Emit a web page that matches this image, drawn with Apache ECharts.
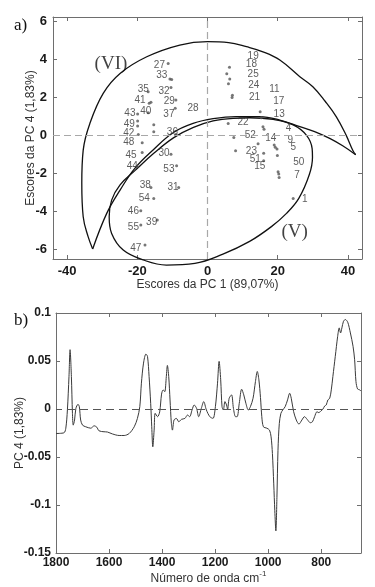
<!DOCTYPE html>
<html>
<head>
<meta charset="utf-8">
<script src="https://cdn.jsdelivr.net/npm/echarts@6/dist/echarts.min.js"></script>
<style>
  html, body { margin: 0; padding: 0; background: #fff; }
  #chart { width: 375px; height: 587px; }
</style>
</head>
<body>
<div id="chart"></div>
<script>
// ---------- Panel a) : PCA scores ----------
const scoreXTicks = [-40, -20, 0, 20, 40];
const scoreYTicks = [-6, -4, -2, 0, 2, 4, 6];

// sample dots [PC1, PC4]
const scoreDots = [
  [-11.2, 3.8], [-10.7, 2.97], [-10.2, 2.95], [-16.9, 2.3], [-10.4, 2.53],
  [-16.6, 1.7], [-16.1, 1.75], [-9.0, 1.87], [-19.9, 1.13], [-16.9, 1.2],
  [-9.2, 1.43], [-19.9, 0.76], [-19.9, 0.49], [-15.3, 0.56], [-15.3, 0.19],
  [-9.0, 0.05], [-19.7, 0.05], [-18.6, -0.39], [-18.6, -0.9], [-10.4, -1.0],
  [-20.0, -1.65], [-8.8, -1.6], [-16.1, -2.76], [-8.2, -2.75], [-15.3, -3.33],
  [-19.0, -3.98], [-14.3, -4.47], [-19.0, -4.74], [-17.8, -5.79],
  [6.26, 3.59], [5.49, 3.25], [6.34, 2.97], [5.97, 2.72], [7.0, 2.0], [7.1, 2.12],
  [15.0, 1.25], [15.3, 0.93], [15.8, 0.46], [16.1, 0.32], [5.9, 0.63],
  [7.5, -0.12], [14.4, -0.45], [19.0, -0.51], [19.3, -0.63], [19.8, -0.72],
  [19.9, -1.07], [8.0, -0.81], [16.0, -0.95], [16.0, -1.34],
  [20.1, -1.92], [20.3, -2.04], [20.4, -2.22], [24.4, -3.33]
];

// sample number labels [PC1, PC4, text]
const scoreLabels = [
  [-13.7, 3.72, '27'], [-13.0, 3.15, '33'], [-18.3, 2.43, '35'], [-12.4, 2.34, '32'],
  [-19.2, 1.87, '41'], [-10.9, 1.81, '29'], [-22.1, 1.15, '43'], [-17.6, 1.28, '40'],
  [-11.0, 1.11, '37'], [-4.1, 1.43, '28'], [-22.3, 0.58, '49'], [-22.4, 0.09, '42'],
  [-22.4, -0.37, '48'], [-10.0, 0.19, '36'], [-21.8, -1.06, '45'], [-12.4, -0.92, '30'],
  [-21.4, -1.62, '44'], [-11.0, -1.8, '53'], [-17.7, -2.64, '38'], [-9.8, -2.75, '31'],
  [-18.0, -3.33, '54'], [-21.1, -4.0, '46'], [-15.9, -4.61, '39'], [-21.1, -4.86, '55'],
  [-20.4, -5.97, '47'],
  [13.0, 4.19, '19'], [12.5, 3.73, '18'], [13.0, 3.25, '25'], [13.2, 2.64, '24'],
  [13.4, 2.0, '21'], [19.05, 2.43, '11'], [20.3, 1.78, '17'], [20.4, 1.1, '13'],
  [10.1, 0.67, '22'], [23.1, 0.37, '4'], [12.2, -0.02, '52'], [18.0, -0.16, '14'],
  [23.6, -0.25, '9'], [24.4, -0.65, '5'], [12.5, -0.83, '23'], [13.6, -1.27, '51'],
  [14.9, -1.62, '15'], [26.0, -1.43, '50'], [25.5, -2.1, '7'], [27.7, -3.36, '1']
];

// group labels [PC1, PC4, text]
const regionLabels = [
  [-27.5, 3.76, '(VI)'],
  [24.8, -5.09, '(V)']
];

// outline of group (VI): outer arc, then inner arc
const crescentOuter = [
  [-32.7, -6.0], [-34.0, -5.35], [-35.4, -4.3], [-35.8, -2.53], [-35.4, -0.78],
  [-33.5, 0.63], [-29.7, 2.22], [-24.9, 3.27], [-17.3, 4.15], [-7.9, 4.77],
  [0, 4.95], [6, 4.9], [11.1, 4.68], [16, 4.4], [20.6, 3.98], [26.3, 3.1],
  [30.0, 2.57], [33.5, 1.8], [36.7, 0.98], [39.5, 0.0], [41.4, -0.8], [42.2, -1.02]
];
const crescentInner = [
  [42.2, -1.02], [38.5, -0.55], [34.8, -0.16], [30.5, 0.2], [26.3, 0.46], [20.6, 0.81],
  [14.9, 0.99], [8.2, 0.99], [1.6, 0.88], [-4.1, 0.63], [-9.8, 0.14],
  [-15.5, -0.77], [-20.7, -1.74], [-24.9, -2.89], [-28.7, -4.12], [-32.7, -6.0]
];
// outline of group (V)
const ellipseV = [
  [7.3, 0.9], [12.0, 0.93], [18.7, 0.84], [24.4, 0.55], [28.2, 0.0], [29.8, -0.7],
  [29.9, -1.15], [29.0, -2.07], [26.0, -3.33], [22.5, -4.12], [18.2, -4.82],
  [12.0, -5.6], [4.4, -6.27], [-3.6, -6.76], [-11.7, -6.85], [-18.3, -6.58],
  [-24.0, -6.06], [-27.3, -5.18], [-28.0, -4.3], [-27.3, -3.42], [-24.9, -2.62],
  [-20.6, -1.85], [-15.3, -0.95], [-9.6, -0.12], [-4.0, 0.42], [1.6, 0.76], [7.3, 0.9]
];

// ---------- Panel b) : PC4 loadings ----------
const waveTicks = [800, 1000, 1200, 1400, 1600, 1800];
const wavenumbers = [
  1800, 1770, 1763, 1757, 1751, 1747, 1742, 1738, 1735, 1730, 1725, 1717, 1712, 1707, 1700,
  1688, 1669, 1656, 1646, 1638, 1619, 1606, 1587, 1562, 1543, 1524, 1505, 1493, 1484, 1478,
  1470, 1461, 1455, 1449, 1443, 1439, 1435, 1430, 1426, 1417, 1409, 1402, 1396, 1390, 1384,
  1380, 1375, 1370, 1365, 1361, 1355, 1346, 1337, 1327, 1314, 1304, 1296, 1287, 1279, 1270,
  1262, 1252, 1243, 1233, 1220, 1208, 1199, 1191, 1185, 1179, 1174, 1169, 1163, 1157, 1153,
  1147, 1138, 1131, 1123, 1117, 1109, 1100, 1092, 1084, 1075, 1067, 1057, 1048, 1041, 1035,
  1029, 1024, 1018, 1005, 995, 989, 984, 979, 975, 971, 967, 963, 958, 952, 945,
  936, 927, 919, 913, 904, 894, 884, 873, 863, 853, 841, 833, 825, 816, 809,
  801, 794, 787, 781, 775, 768, 762, 756, 747, 738, 732, 727, 722, 716, 709,
  700, 690, 680, 674, 669, 663, 655, 650
];
const pc4Loading = [
  -0.0255, -0.0248, -0.020, -0.001, 0.034, 0.0618, 0.034, -0.0045, -0.0168, -0.0115, 0.0007, 0.0049, 0.0024, -0.0115, -0.0168,
  -0.0185, -0.020, -0.0175, -0.019, -0.0227, -0.0237, -0.024, -0.026, -0.0276, -0.0276, -0.0255, -0.0185, -0.0098, 0.0024, 0.0269,
  0.0478, 0.0572, 0.0548, 0.0339, 0.0059, -0.0185, -0.0394, -0.022, -0.0045, -0.008, -0.003, 0.0155, 0.0199, 0.018, 0.0339,
  0.0454, 0.0339, 0.0094, -0.015, -0.022, -0.0115, -0.0098, -0.0133, -0.0108, -0.0098, -0.0063, -0.008, -0.001, 0.0042, 0.0007,
  -0.008, 0.0007, 0.0077, -0.001, -0.008, -0.0098, 0.0024, 0.0269, 0.0496, 0.0304, 0.0024, -0.001, 0.0077, 0.0042, -0.0003,
  0.0112, 0.0147, 0.0007, -0.008, -0.008, 0.0059, 0.0206, 0.0147, 0.0059, -0.001, 0.0024, 0.0112, 0.0286, 0.0391, 0.0304,
  0.012, -0.008, -0.0185, -0.020, -0.022, -0.029, -0.0464, -0.078, -0.106, -0.127, -0.092, -0.043, -0.015, -0.0045, -0.001,
  0.0024, 0.0094, 0.0164, 0.0112, -0.0028, -0.0115, -0.0157, -0.0115, -0.008, -0.0108, -0.0143, -0.0133, -0.008, -0.0028, -0.0038,
  -0.002, -0.0003, 0.0031, 0.0042, 0.0094, 0.0112, 0.0199, 0.0339, 0.0548, 0.0757, 0.0845, 0.0792, 0.0845, 0.0914, 0.0932,
  0.0904, 0.0792, 0.0653, 0.0513, 0.0286, 0.0209, 0.0199, 0.0188
];

// ---------- chart ----------
const SANS = "'Liberation Sans', Arial, sans-serif";
const SERIF = "'Liberation Serif', 'Times New Roman', serif";
const boxColor = '#6e6e6e';
const plain = v => String(v);

function mainAxis(extra) {
  return Object.assign({
    type: 'value',
    splitLine: { show: false },
    axisLine: { show: true, onZero: false, lineStyle: { color: boxColor, width: 1 } },
    nameLocation: 'middle',
    nameMoveOverlap: false,
    nameTextStyle: { color: '#333', fontFamily: SANS, fontSize: 12 }
  }, extra);
}
function mirrorAxis(extra) {
  return Object.assign({
    type: 'value',
    splitLine: { show: false },
    axisLine: { show: true, onZero: false, lineStyle: { color: boxColor, width: 1 } },
    axisLabel: { show: false }
  }, extra);
}
function ticks(values) {
  const t = { show: true, inside: true, length: 4, lineStyle: { color: boxColor } };
  if (values) t.customValues = values;
  return t;
}
function labels(size, margin, values) {
  const l = { color: '#1a1a1a', fontFamily: SANS, fontWeight: 'bold', fontSize: size, margin: margin, formatter: plain };
  if (values) l.customValues = values;
  return l;
}

const waveData = wavenumbers.map((w, i) => [w, pc4Loading[i]]);

const option = {
  animation: false,
  backgroundColor: '#fff',
  grid: [
    { left: 53, top: 17, width: 309, height: 242 },
    { left: 56, top: 313, width: 305, height: 240 }
  ],
  graphic: [
    { type: 'text', left: 14, top: 17, style: { text: 'a)', font: '17px ' + SERIF, fill: '#111' } },
    { type: 'text', left: 14, top: 312, style: { text: 'b)', font: '17px ' + SERIF, fill: '#111' } }
  ],
  xAxis: [
    mainAxis({
      gridIndex: 0, min: -44, max: 44, position: 'bottom',
      axisTick: ticks(scoreXTicks), axisLabel: labels(13, 6, scoreXTicks),
      name: 'Escores da PC 1 (89,07%)', nameGap: 20
    }),
    mirrorAxis({ gridIndex: 0, min: -44, max: 44, position: 'top', axisTick: ticks(scoreXTicks) }),
    mainAxis({
      gridIndex: 1, min: 650, max: 1800, inverse: true, position: 'bottom',
      axisTick: ticks(waveTicks), axisLabel: labels(12, 4, waveTicks),
      name: 'Número de onda cm{sup|-1}', nameGap: 17,
      nameTextStyle: { color: '#333', fontFamily: SANS, fontSize: 12,
        rich: { sup: { fontSize: 8, fontFamily: SANS, color: '#333', padding: [0, 0, 9, 0] } } }
    }),
    mirrorAxis({ gridIndex: 1, min: 650, max: 1800, inverse: true, position: 'top', axisTick: ticks(waveTicks) })
  ],
  yAxis: [
    mainAxis({
      gridIndex: 0, min: -6.53, max: 6.25, position: 'left',
      axisTick: ticks(scoreYTicks), axisLabel: labels(13, 6, scoreYTicks),
      name: 'Escores da PC 4 (1,83%)', nameGap: 16
    }),
    mirrorAxis({ gridIndex: 0, min: -6.53, max: 6.25, position: 'right', axisTick: ticks(scoreYTicks) }),
    mainAxis({
      gridIndex: 1, min: -0.15, max: 0.1, interval: 0.05, position: 'left',
      axisTick: ticks(), axisLabel: labels(12, 5),
      name: 'PC 4 (1,83%)', nameGap: 30
    }),
    mirrorAxis({ gridIndex: 1, min: -0.15, max: 0.1, interval: 0.05, position: 'right', axisTick: ticks() })
  ],
  series: [
    {
      type: 'scatter', xAxisIndex: 0, yAxisIndex: 0, data: scoreDots,
      symbolSize: 3, itemStyle: { color: '#555' }, silent: true, z: 3,
      markLine: {
        silent: true, symbol: 'none', label: { show: false },
        lineStyle: { color: '#a8a8a8', type: [7, 4], width: 1.2 },
        data: [{ xAxis: 0 }, { yAxis: 0 }]
      }
    },
    {
      type: 'scatter', xAxisIndex: 0, yAxisIndex: 0, data: scoreLabels,
      symbolSize: 0, silent: true, z: 4,
      label: { show: true, position: 'inside', formatter: p => p.data[2],
        color: '#333', fontFamily: SANS, fontSize: 10 }
    },
    {
      type: 'scatter', xAxisIndex: 0, yAxisIndex: 0, data: regionLabels,
      symbolSize: 0, silent: true, z: 4,
      label: { show: true, position: 'inside', formatter: p => p.data[2],
        color: '#111', fontFamily: SERIF, fontSize: 19 }
    },
    {
      type: 'line', xAxisIndex: 0, yAxisIndex: 0, data: crescentOuter, smooth: 0.4,
      showSymbol: false, clip: false, silent: true,
      lineStyle: { color: '#111', width: 1.3 }
    },
    {
      type: 'line', xAxisIndex: 0, yAxisIndex: 0, data: crescentInner, smooth: 0.4,
      showSymbol: false, clip: false, silent: true,
      lineStyle: { color: '#111', width: 1.3 }
    },
    {
      type: 'line', xAxisIndex: 0, yAxisIndex: 0, data: ellipseV, smooth: 0.4,
      showSymbol: false, clip: false, silent: true,
      lineStyle: { color: '#111', width: 1.3 }
    },
    {
      type: 'line', xAxisIndex: 2, yAxisIndex: 2, data: waveData, smooth: 0.3,
      showSymbol: false, silent: true,
      lineStyle: { color: '#3a3a3a', width: 1 },
      markLine: {
        silent: true, symbol: 'none', label: { show: false },
        lineStyle: { color: '#555', type: [8, 5], width: 1 },
        data: [{ yAxis: 0 }]
      }
    }
  ]
};

const chart = echarts.init(document.getElementById('chart'), null, { renderer: 'canvas' });
chart.setOption(option);
</script>
</body>
</html>
